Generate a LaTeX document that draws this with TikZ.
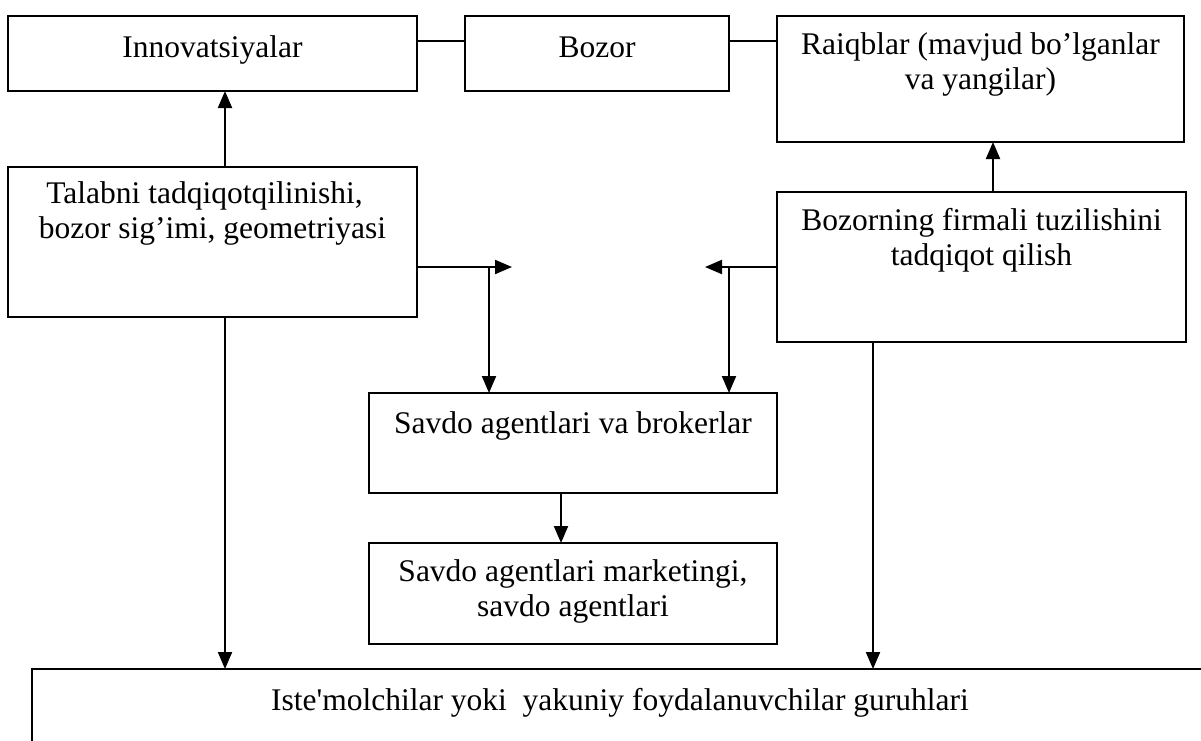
\documentclass[tikz,border=0pt]{standalone}
\usepackage{fontspec}
\setmainfont{Liberation Serif}[Ligatures=TeXOff]
\usetikzlibrary{arrows.meta,calc}
\begin{document}
\begin{tikzpicture}[x=1pt,y=1pt,
  box/.style={draw, line width=2pt, inner sep=0pt, outer sep=0pt},
  txt/.style={anchor=north, align=center, inner sep=0pt,
    font=\fontsize{31.5}{35}\selectfont, execute at begin node={\strut}},
  link/.style={line width=2pt},
  arr/.style={line width=2pt, -{Triangle[length=17pt,width=14pt]}}]
\useasboundingbox (0,0) rectangle (1201,-740);
\fill[white] (0,0) rectangle (1201,-740);
\clip (0,0) rectangle (1201,-740);

% top row
\node[box, minimum width=409pt, minimum height=75pt]  (inn) at (212.5,-53.5) {};
\node[box, minimum width=264pt, minimum height=75pt]  (boz) at (597,-53.5) {};
\node[box, minimum width=407pt, minimum height=126pt] (rai) at (980.5,-79) {};
% research boxes
\node[box, minimum width=409pt, minimum height=150pt] (tal) at (212.5,-242) {};
\node[box, minimum width=409pt, minimum height=150pt] (bzf) at (981.5,-267) {};
% agents
\node[box, minimum width=408pt, minimum height=100pt] (sab) at (573,-443) {};
\node[box, minimum width=408pt, minimum height=101pt] (sam) at (573,-593.5) {};
% consumers (runs past the right and bottom edges)
\node[box, minimum width=1220pt, minimum height=140pt] (ist) at (642,-739) {};

% texts
\node[txt] (innT) at ($(inn.north)+(0,-16.5)$) {Innovatsiyalar};
\node[txt] (bozT) at ($(boz.north)+(0,-16.5)$) {Bozor};
\node[txt] (raiT) at ($(rai.north)+(0,-16.5)$) {Raiqblar (mavjud bo’lganlar\\va yangilar)};
\node[txt] (talT) at ($(tal.north)+(0,-14.5)$)
  {Talabni tadqiqotqilinishi,\hspace*{16pt}\\bozor sig’imi, geometriyasi};
\node[txt] (bzfT) at ($(bzf.north)+(0,-16)$) {Bozorning firmali tuzilishini\\tadqiqot qilish};
\node[txt] (sabT) at ($(sab.north)+(0,-16)$) {Savdo agentlari va brokerlar};
\node[txt] (samT) at ($(sam.north)+(0,-16.5)$) {Savdo agentlari marketingi,\\savdo agentlari};
\node[txt] (istT) at ($(ist.north -| 620,0)+(0,-16.5)$) {Iste'molchilar yoki\ \ yakuniy foydalanuvchilar guruhlari};

% top row links
\draw[link] ($(inn.north east)+(0,-25)$) -- ($(boz.north west)+(0,-25)$);
\draw[link] ($(boz.north east)+(0,-25)$) -- ($(rai.north west)+(0,-25)$);

% upward arrows
\draw[arr] ($(tal.north)+(12.5,0)$) -- ($(inn.south)+(12.5,0)$);
\draw[arr] ($(bzf.north)+(11.5,0)$) -- ($(rai.south)+(12.5,0)$);

% branches towards the agents
\coordinate (tipL) at (512,-267);
\coordinate (tipR) at (705,-267);
\coordinate (brL) at (489,-267);
\coordinate (brR) at (729,-267);
\draw[arr] (tal.east |- tipL) -- (tipL);
\draw[arr] (brL) -- (sab.north -| brL);
\draw[arr] (bzf.west |- tipR) -- (tipR);
\draw[arr] (brR) -- (sab.north -| brR);

% agents chain
\draw[arr] ($(sab.south)+(-12,0)$) -- ($(sam.north)+(-12,0)$);

% down to consumers
\coordinate (dnL) at ($(tal.south)+(12.5,0)$);
\coordinate (dnR) at ($(bzf.south)+(-108.5,0)$);
\draw[arr] (dnL) -- (ist.north -| dnL);
\draw[arr] (dnR) -- (ist.north -| dnR);
\end{tikzpicture}
\end{document}
